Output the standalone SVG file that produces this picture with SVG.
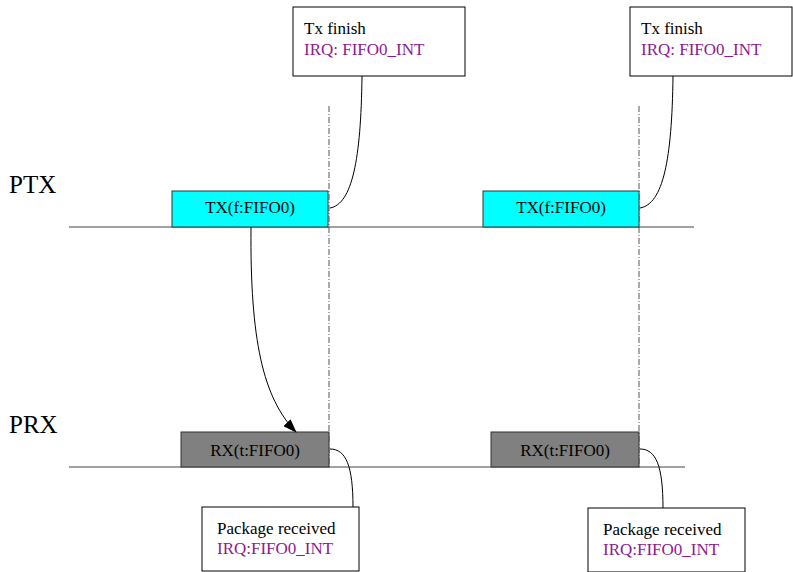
<svg xmlns="http://www.w3.org/2000/svg" width="793" height="572" viewBox="0 0 793 572">
<defs>
<style>
text{font-family:"Liberation Serif","Times New Roman",serif;fill:#000}
.lbl{font-size:25px}
.t{font-size:17px}
.irq{fill:#8e1a8e}
.note{fill:#fff;stroke:#000;stroke-width:1}
.tx{fill:#00ffff;stroke:#333;stroke-width:1}
.rx{fill:#808080;stroke:#333;stroke-width:1}
.axis{stroke:#444;stroke-width:1.2;fill:none}
.dash{stroke:#555;stroke-width:1;stroke-dasharray:6,2,1,2;fill:none}
.conn{stroke:#000;stroke-width:1;fill:none}
</style>
<marker id="ah" markerWidth="14" markerHeight="10" refX="13" refY="5" orient="auto" markerUnits="userSpaceOnUse">
<path d="M0,0 L14,5 L0,10 z" fill="#000"/>
</marker>
</defs>
<rect width="793" height="572" fill="#fff"/>
<g id="labels">
<text class="lbl" x="9" y="193">PTX</text>
<text class="lbl" x="9" y="433">PRX</text>
</g>
<g id="axes">
<line class="axis" x1="69" y1="227" x2="694" y2="227"/>
<line class="axis" x1="69" y1="467" x2="685" y2="467"/>
<line class="dash" x1="329" y1="106" x2="329" y2="467"/>
<line class="dash" x1="639" y1="106" x2="639" y2="467"/>
</g>
<g id="tx1">
<rect class="tx" x="172" y="191" width="156" height="36"/>
<text class="t" x="250" y="213" text-anchor="middle">TX(f:FIFO0)</text>
</g>
<g id="tx2">
<rect class="tx" x="483" y="191" width="156" height="36"/>
<text class="t" x="561" y="213" text-anchor="middle">TX(f:FIFO0)</text>
</g>
<g id="rx1">
<rect class="rx" x="181" y="432" width="148" height="35"/>
<text class="t" x="255" y="456" text-anchor="middle">RX(t:FIFO0)</text>
</g>
<g id="rx2">
<rect class="rx" x="491" y="432" width="148" height="35"/>
<text class="t" x="565" y="456" text-anchor="middle">RX(t:FIFO0)</text>
</g>
<g id="note-tx1">
<rect class="note" x="293" y="7" width="172" height="69"/>
<text class="t" x="304" y="34">Tx finish</text>
<text class="t irq" x="304" y="55">IRQ: FIFO0_INT</text>
</g>
<g id="note-tx2">
<rect class="note" x="630" y="7" width="162" height="69"/>
<text class="t" x="641" y="34">Tx finish</text>
<text class="t irq" x="641" y="55">IRQ: FIFO0_INT</text>
</g>
<g id="note-rx1">
<rect class="note" x="202" y="507" width="157" height="64"/>
<text class="t" x="217" y="534">Package received</text>
<text class="t irq" x="217" y="554">IRQ:FIFO0_INT</text>
</g>
<g id="note-rx2">
<rect class="note" x="588" y="508" width="157" height="64"/>
<text class="t" x="603" y="535">Package received</text>
<text class="t irq" x="603" y="555">IRQ:FIFO0_INT</text>
</g>
<g id="connectors">
<path class="conn" d="M362,76 C361,160 352,204 330,208"/>
<path class="conn" d="M673,76 C672,160 663,204 640,208"/>
<path class="conn" d="M251,227 C250,340 263,398 296,432" marker-end="url(#ah)"/>
<path class="conn" d="M330,449 C346,449 353,466 353,507"/>
<path class="conn" d="M640,449 C656,449 663,466 663,508"/>
</g>
</svg>
